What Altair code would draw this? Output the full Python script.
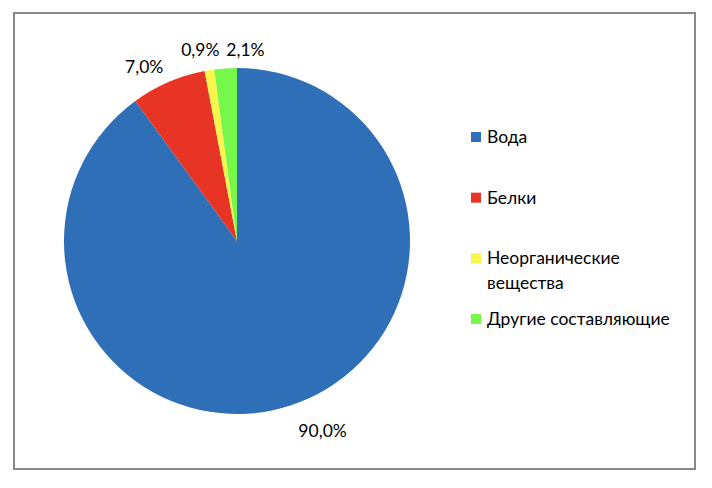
import altair as alt
import pandas as pd

categories = ["Вода", "Белки", "Неорганические вещества", "Другие составляющие"]
values = [90.0, 7.0, 0.9, 2.1]
value_labels = ["90,0%", "7,0%", "0,9%", "2,1%"]
legend_labels = ["Вода", "Белки", "Неорганические\nвещества", "Другие составляющие"]
legend_rows = [0, 1, 2, 3]
colors = ["#2E6FB7", "#E83424", "#F8F64A", "#76F74A"]

df = pd.DataFrame({
    "cat": categories,
    "value": values,
    "label": value_labels,
    "legend": legend_labels,
    "row": legend_rows,
    "idx": list(range(len(categories))),
})

FONT = "Lato"
FS = 17.5
CX, CY, R = 223, 228, 173

color = alt.Color("cat:N", scale=alt.Scale(domain=categories, range=colors), legend=None)
theta_scale = alt.Scale(domain=[0, 100])

base = alt.Chart(df)

pie = base.mark_arc(outerRadius=R).encode(
    theta=alt.Theta("value:Q", stack=True, scale=theta_scale),
    order=alt.Order("idx:Q"),
    color=color,
    x=alt.value(CX),
    y=alt.value(CY),
)


def label_layer(lbl, radius, dx, dy):
    return (
        base.transform_window(cum="sum(value)", sort=[alt.SortField("idx")])
        .transform_calculate(mid="datum.cum - datum.value / 2")
        .transform_filter(alt.datum.label == lbl)
        .mark_text(radius=radius, dx=dx, dy=dy, font=FONT, fontSize=FS, color="black")
        .encode(
            theta=alt.Theta("mid:Q", stack=None, scale=theta_scale),
            text="label:N",
            x=alt.value(CX),
            y=alt.value(CY),
        )
    )


labels = [
    label_layer("90,0%", 209, 21, -8),
    label_layer("7,0%", 196, -15, 7),
    label_layer("0,9%", 192, -6, 0),
    label_layer("2,1%", 190, 21, 0),
]

leg_y = alt.Y("row:Q", scale=alt.Scale(domain=[0, 3], range=[124, 306]), axis=None)

leg_squares = base.mark_square(size=100, opacity=1).encode(
    x=alt.value(462), y=leg_y, color=color
)
leg_text = base.mark_text(
    align="left", baseline="alphabetic", dy=6, lineBreak="\n", lineHeight=25,
    fontSize=FS, font=FONT, color="black",
).encode(x=alt.value(473), y=leg_y, text="legend:N")

chart = (
    alt.layer(pie, *labels, leg_squares, leg_text)
    .properties(
        width=681,
        height=456,
        padding={"left": 6, "top": 5, "right": 7, "bottom": 11},
        autosize=alt.AutoSizeParams(type="none"),
        background="white",
    )
    .configure_view(stroke="#888888", strokeWidth=2)
)

chart.save("out.html", embed_options={"renderer": "svg", "actions": False})
